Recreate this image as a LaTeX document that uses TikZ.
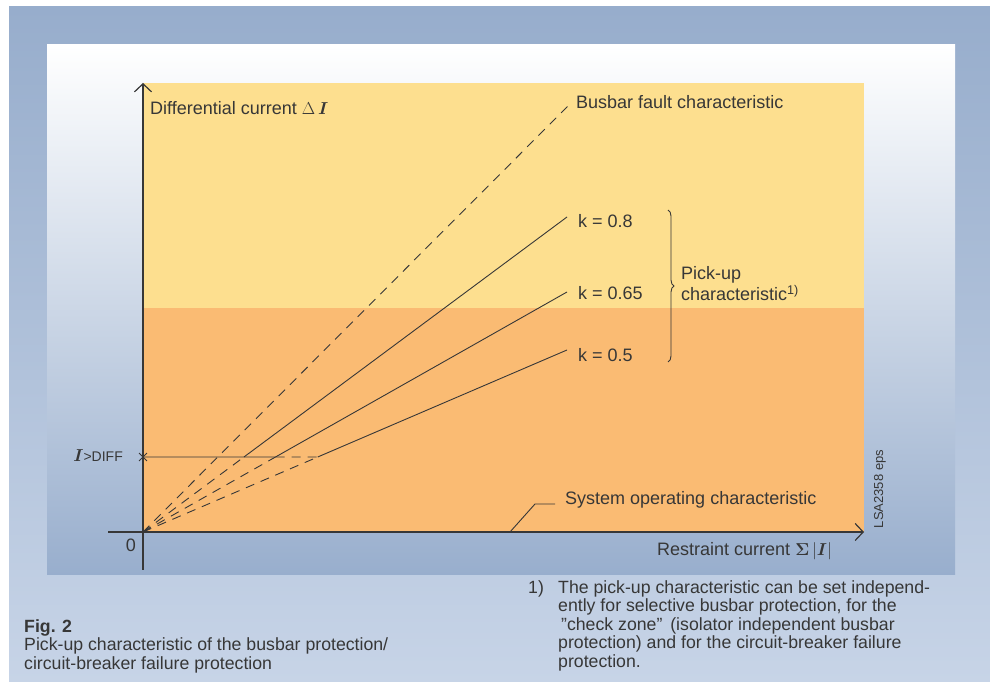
\documentclass[tikz,border=0pt]{standalone}
\usepackage{amsmath}
\usepackage{fontspec}
\setmainfont{Liberation Sans}
\usetikzlibrary{arrows.meta, decorations.pathreplacing, shapes.misc, calc, positioning}
\definecolor{frametop}{RGB}{151,173,204}
\definecolor{framebot}{RGB}{199,212,231}
\definecolor{panelbot}{RGB}{152,174,205}
\definecolor{fieldyellow}{RGB}{253,223,143}
\definecolor{fieldorange}{RGB}{250,187,115}
\definecolor{inkgray}{RGB}{55,55,55}

\tikzset{
    axis/.style={draw=inkgray, line width=1.2pt, -{Straight Barb[length=8pt,width=17pt]}},
    charline/.style={draw=inkgray, line width=0.9pt},
    dashline/.style={charline, dash pattern=on 9pt off 7pt},
    lbl/.style={text=inkgray, font=\fontsize{18}{21}\selectfont, inner sep=0pt},
    notetext/.style={text=inkgray, font=\fontsize{17.7}{18.6}\selectfont, inner sep=0pt, align=left},
}

\begin{document}
\begin{tikzpicture}[x=1pt, y=1pt]

    % Hintergrund und Felder
    \fill[white] (0,0) rectangle (990,682);
    \shade[top color=frametop, bottom color=framebot] (9,0) rectangle (990,675);
    \shade[top color=white, bottom color=panelbot] (47,107) rectangle (955,637);
    \fill[fieldyellow] (143,374) rectangle (864,599);
    \fill[fieldorange] (143,150) rectangle (864,374);
    \useasboundingbox (0,0) rectangle (990,682);

    % Punkte
    \coordinate (O) at (143,150);
    \coordinate (ytop) at (143,599);
    \coordinate (ybot) at (143,112);
    \coordinate (xleft) at (108,150);
    \coordinate (xright) at (864,150);
    \coordinate (bb) at (570,578); % Sammelschienenfehler
    \coordinate (k8) at (567,465);
    \coordinate (k65) at (567,390);
    \coordinate (k5) at (567,332);
    \coordinate (tick) at (143,225); % I>DIFF
    \coordinate (tickr) at (600,225);
    \coordinate (k8s) at (intersection of O--k8 and tick--tickr);
    \coordinate (k65s) at (intersection of O--k65 and tick--tickr);
    \coordinate (k5s) at (intersection of O--k5 and tick--tickr);

    % Achsen
    \draw[axis] (ybot) -- (ytop);
    \draw[axis] (xleft) -- (xright);
    \node (ylab) [lbl, anchor=west] at (150,574) {Differential current $\Delta\,\boldsymbol{I}$};
    \node (xlab) [lbl, anchor=west] at (657,131) {Restraint current $\boldsymbol{\Sigma}\,|\boldsymbol{I}|$};
    \node (zero) [lbl] at (131,137) {0};

    % Kennlinien
    \draw[dashline] (O) -- (bb);
    \draw[dashline] (O) -- (k8s);
    \draw[dashline] (O) -- (k65s);
    \draw[dashline] (O) -- (k5s);
    \draw[charline] (k8s) -- (k8);
    \draw[charline] (k65s) -- (k65);
    \draw[charline] (k5s) -- (k5);
    \draw[charline] (tick) -- (k65s);
    \draw[dashline] (k65s) -- (k5s);
    \node (tickmark) [cross out, draw=inkgray, line width=0.9pt, minimum size=7pt, inner sep=0pt] at (tick) {};
    \node (idiff) [lbl, anchor=east] at (123,226) {$\boldsymbol{I}$\fontsize{14}{16}\selectfont>DIFF};

    % Beschriftung
    \node (bblab) [lbl, anchor=west] at (576,580) {Busbar fault characteristic};
    \node (k8lab) [lbl, anchor=west] at (578,461) {k = 0.8};
    \node (k65lab) [lbl, anchor=west] at (578,389) {k = 0.65};
    \node (k5lab) [lbl, anchor=west] at (578,327) {k = 0.5};
    \coordinate (bracetop) at (668,472);
    \coordinate (bracebot) at (668,320);
    \draw[charline, decorate, decoration={brace, amplitude=6pt}] (bracetop) -- (bracebot);
    \node (pickup) [lbl, anchor=west, align=left] at (681,398) {Pick-up\\characteristic\textsuperscript{1)}};

    % Betriebskennlinie
    \coordinate (sysfoot) at (510,150);
    \coordinate (sysknee) at (535,178);
    \coordinate (sysend) at (555,178);
    \draw[charline] (sysfoot) -- (sysknee) -- (sysend);
    \node (syslab) [lbl, anchor=west] at (565,182) {System operating characteristic};
    \node (lsa) [text=inkgray, font=\fontsize{13}{15}\selectfont, inner sep=0pt, rotate=90] at (880,193) {LSA2358 eps};

    % Bildunterschrift und Fussnote
    \node (caption) [notetext, anchor=north west] at (24,63) {\textbf{Fig. 2}\\Pick-up characteristic of the busbar protection/\\circuit-breaker failure protection};
    \node (fnmark) [notetext, anchor=north west] at (528,102) {1)};
    \node (fntext) [notetext, anchor=north west] at (558,102) {The pick-up characteristic can be set independ-\\ently for selective busbar protection, for the\\\,''check zone''\, (isolator independent busbar\\protection) and for the circuit-breaker failure\\protection.};

\end{tikzpicture}
\end{document}
